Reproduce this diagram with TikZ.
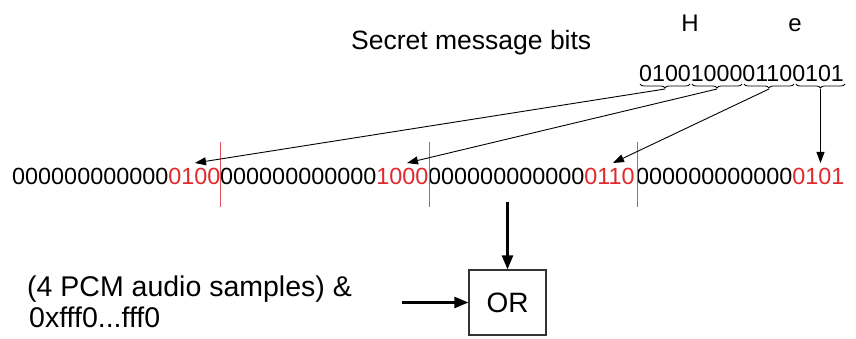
\documentclass[tikz,border=0pt]{standalone}
\usepackage{fontspec}
\setmainfont{Liberation Sans}
\usetikzlibrary{arrows.meta,decorations.pathreplacing}
\definecolor{bitred}{RGB}{225,40,45}
\definecolor{sepred}{RGB}{230,80,90}
\tikzset{
  thin arrow/.style={draw=black, line width=0.9pt, -{Triangle[length=11pt,width=8pt]}},
  thick arrow/.style={draw=black, line width=2.4pt, -{Triangle[length=14pt,width=11pt]}},
  bitrow/.style={inner sep=0pt, anchor=base west, font=\fontsize{23.4}{28}\selectfont},
  bracestyle/.style={draw=black, line width=0.8pt, decorate, decoration={brace, mirror, amplitude=4pt}},
  seprule/.style={draw=sepred, line width=0.8pt},
  labeltext/.style={inner sep=0pt, anchor=base west},
  orbox/.style={draw=black!80, line width=1.2pt, minimum width=77pt, minimum height=65pt, inner sep=0pt, font=\fontsize{28}{32}\selectfont}
}
\begin{document}
\begin{tikzpicture}[x=1pt,y=-1pt]
\useasboundingbox (0,0) rectangle (856,339);
% title and letters
\node[labeltext, font=\fontsize{26.5}{30}\selectfont] (title) at (351,50) {Secret message bits};
\node[inner sep=0pt, anchor=base, font=\fontsize{24}{28}\selectfont] (H) at (690,32) {H};
\node[inner sep=0pt, anchor=base, font=\fontsize{24}{28}\selectfont] (e) at (795,32) {e};
% message bits
\node[bitrow, font=\fontsize{23.2}{28}\selectfont] (msg) at (639,82) {0100100001100101};
\draw[bracestyle] (640,84) -- (690,84);
\draw[bracestyle] (692,84) -- (742,84);
\draw[bracestyle] (744,84) -- (794,84);
\draw[bracestyle] (796,84) -- (845,84);
\coordinate (b1) at (665,89);
\coordinate (b2) at (717,89);
\coordinate (b3) at (769,89);
\coordinate (b4) at (820.5,89);
% sample row
\node[bitrow] (s1) at (12,185) {000000000000\textcolor{bitred}{0100}};
\node[bitrow] (s2) at (220,185) {000000000000\textcolor{bitred}{1000}};
\node[bitrow] (s3) at (428,185) {000000000000\textcolor{bitred}{0110}};
\node[bitrow] (s4) at (636,185) {000000000000\textcolor{bitred}{0101}};
\coordinate (r1t) at (220,142); \coordinate (r1b) at (220,207);
\coordinate (r2t) at (429,142); \coordinate (r2b) at (429,207);
\coordinate (r3t) at (637,142); \coordinate (r3b) at (637,207);
\draw[seprule] (r1t) -- (r1b);
\draw[seprule] (r2t) -- (r2b);
\draw[seprule] (r3t) -- (r3b);
% arrows from message bits
\coordinate (t1) at (195,163);
\coordinate (t2) at (407,163);
\coordinate (t3) at (613,163);
\coordinate (t4) at (820.5,163);
\draw[thin arrow] (b1) -- (t1);
\draw[thin arrow] (b2) -- (t2);
\draw[thin arrow] (b3) -- (t3);
\draw[thin arrow] (b4) -- (t4);
% OR box
\node[orbox] (or) at (507.5,302.5) {OR};
\coordinate (down) at (507.5,202);
\draw[thick arrow] (down) -- (or.north);
\coordinate (left) at (402,302.5);
\draw[thick arrow] (left) -- (or.west);
% bottom text
\node[labeltext, font=\fontsize{28.5}{30}\selectfont] (pcm) at (27,296) {(4 PCM audio samples) \&};
\node[labeltext, font=\fontsize{28.5}{30}\selectfont] (mask) at (29,327) {0xfff0...fff0};
\end{tikzpicture}
\end{document}
